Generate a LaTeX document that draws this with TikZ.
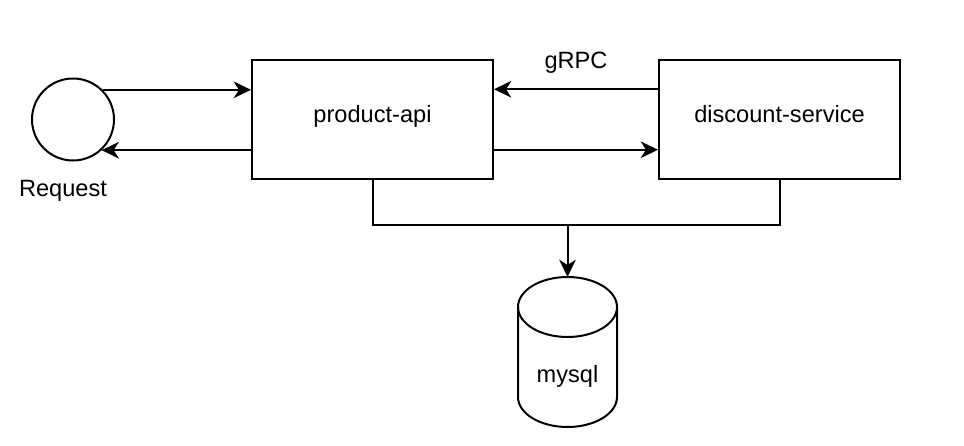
\documentclass[tikz,border=0pt]{standalone}
\usepackage{fontspec}
\setmainfont{Liberation Sans}
\usepackage{tikz}
\usetikzlibrary{calc,positioning,arrows.meta}
\tikzset{
    >={Stealth[length=13pt,width=12.5pt,inset=4pt]},
    box/.style={
        rectangle,
        draw, line width=1.5pt,
        minimum width=180.75pt,
        minimum height=89.25pt,
        text height=0.75em,
        text depth=0.25em
    },
    line/.style={draw, line width=1.5pt, ->},
    wire/.style={draw, line width=1.5pt},
    font={\fontsize{17.7pt}{21pt}\selectfont},
}

\begin{document}
\begin{tikzpicture}[x=0.75pt,y=-0.75pt]
        \useasboundingbox (0,0) rectangle (964,446);

        % Setup the style for the request and the database
        \tikzset{req style/.style={circle, draw, line width=1.5pt,
                                   minimum size=61.5pt},
                 db style/.style={rectangle, minimum width=74.25pt,
                                  minimum height=112.5pt,
                                  inner sep=0pt, outer sep=0pt}}

        \node[box]                        (api)  at (372.5,119.5) {product-api};
        \node[box, right=123pt of api]    (disc) {discount-service};
        \node[req style, left=102pt of api] (req) {};
        \node[db style]                   (db)   at (567.5,352) {};

        % Plain text nodes
        \node[anchor=base] (reqlabel) at ([xshift=-7.5pt,yshift=-26.25pt]req.south) {Request};
        \node[anchor=base] (grpc) at ($(api.north east)!0.5!(disc.north west)+(0,9)$) {gRPC};
        \node[anchor=base] (dblabel) at ($(db.center)+(0,30)$) {mysql};

        % Draw the cylinder round the db node
        \draw[wire] ($(db.north west)+(0,30)$)
              -- ($(db.south west)+(0,-30)$)
              arc[start angle=180, end angle=360, x radius=37.125pt, y radius=22.5pt]
              -- ($(db.north east)+(0,30)$)
              arc[start angle=0, end angle=180, x radius=37.125pt, y radius=22.5pt]
              -- cycle;
        \draw[wire] ($(db.north west)+(0,30)$)
              arc[start angle=180, end angle=360, x radius=37.125pt, y radius=22.5pt];

        % Connectors
        \draw[line] (req.45) -- (req.45 -| api.west);
        \draw[line] (req.-47 -| api.west) -- (req.-47);
        \draw[line] ($(disc.north west)!0.25!(disc.south west)$)
                 -- ($(api.north east)!0.25!(api.south east)$);
        \draw[line] ($(api.north east)!0.75!(api.south east)$)
                 -- ($(disc.north west)!0.75!(disc.south west)$);

        \coordinate (join) at (567.5,225);
        \draw[wire] (api.south) |- (join) -| (disc.south);
        \draw[line] (join) -- (db.north);

\end{tikzpicture}
\end{document}
